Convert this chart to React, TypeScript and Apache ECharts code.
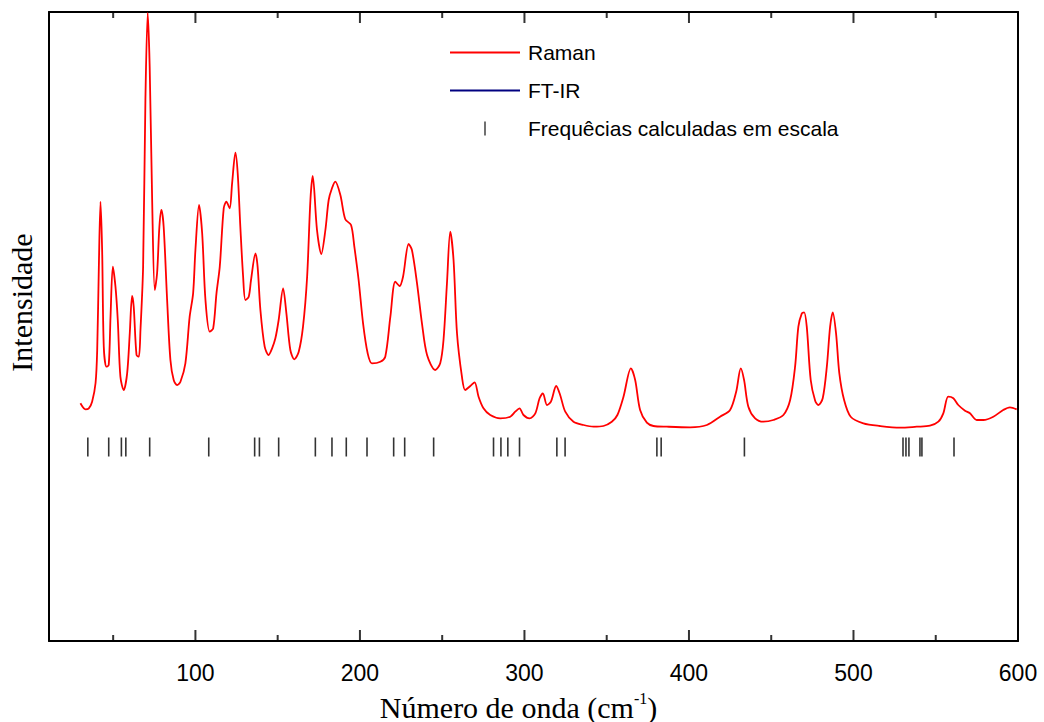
import React, { useEffect, useRef } from "react";
import * as echarts from "echarts";

const ramanWavenumber = [30.1,33.2,35.2,37.2,39.3,40.3,41.3,42.3,43.3,44.3,45.9,47.3,48.4,49.8,51.4,52.8,54.4,56.4,58.5,60.1,61.5,62.5,64.2,65.6,66.6,68.2,69.6,71.0,72.2,73.7,75.3,76.7,78.1,79.3,80.7,82.8,84.8,86.8,88.9,90.9,93.9,96.5,98.6,100,102.2,104.1,106.1,108.7,110.8,112.8,114.8,117.2,118.8,120.8,122.3,124.3,125.7,127.3,129,130.4,132.4,133.8,136.5,137.8,139.5,142.1,144.5,146.6,148.6,150.6,153.3,155.3,157.7,160.1,162.8,165.4,167.9,169.9,171.3,173.9,176.5,179,181,183,185,188.1,191.1,194.6,196.6,199.2,201.9,204.7,207.3,212.4,215.4,218.5,221.5,224.1,226.2,229.6,231.6,234.7,237.7,240.8,245.8,248.8,250.8,252.9,254.9,256.9,259,262,264,267.1,269.7,272.1,275.1,279.2,285.3,291.4,294.4,297,299.4,303.1,306.6,309.2,311.2,313.7,316.1,319.3,321.7,324.8,329.8,335.9,342,348,353.1,356.5,360.2,364.7,367.3,370.3,374.4,378.4,386.6,400.7,410.9,418.9,425,428.7,431.5,433.5,436.1,440.2,445.2,451.3,457.4,461.5,464.5,466.5,468.6,470,471.6,474,476.7,478.7,481.3,483.8,485.8,487.4,489.4,491.4,494.3,498.3,506,516.1,528.3,538.4,546.5,551.6,554.6,557.6,560.7,563.7,567.8,570.8,574.9,578.9,585,591,595.1,599.2];

const ramanIntensity = [237.7,231.7,232.7,239.3,258,291,374.3,439.3,391,294.3,274.3,276,324.3,374.3,354.3,321,264.3,251,267.7,307.7,345,334.3,286,284.3,311,374.3,541,628,574.3,441,351,367.7,414.3,431,414.3,341,281,261,256,259.3,277.7,324.3,347.7,391,436,407.7,341,309.3,312.7,347.7,374.3,432.7,439.3,432.7,457.7,488.3,467.7,414.3,364.3,341,344.3,361,387.7,374.3,331,294.3,286,292.7,302.7,321,352.7,327.7,291,281.7,289.3,314.3,364.3,441,465,411,387,411,441,452.7,459.3,446,421.7,416,394.3,361,317.7,287.7,277.7,279.3,284.3,324.3,359.3,355,364.3,397,391,357.7,317.7,286,271,277.7,301,357.7,409.3,381,307.7,264.3,251,255,258.7,244.3,232.7,226,222.7,224.3,229.3,232.7,226,222.7,227.7,242.7,247.7,236,239.3,255,246,229.3,219.3,216,214.3,215,219.3,226,244.3,272.7,261,231,218.3,215,214.3,213.7,216,224.3,231,249.3,272.7,261,234.3,222.7,219.3,221,226,241,274.3,314.3,327.7,328.7,314.3,261,240.3,236,242.7,274.3,314.3,328.7,307.7,267.7,241,224.3,217.7,215,213.3,214.3,215.3,219.3,227.7,244.3,242.7,236,230.3,227.7,221,221,224.3,231,233.7,231.7];

const calculatedFrequencies = [34.6,47.3,55,57.7,72.2,108.1,136,138.9,150.6,172.9,183,191.7,204.3,220.5,227.2,244.8,281.2,285.7,289.9,297,319.7,324.7,380.5,383.1,433.7,530.1,531.9,533.7,540.4,541.6,561.1];
const calculatedMarkerLevel = 194;

const majorTicks = [100, 200, 300, 400, 500, 600];
const minorTicks = [50, 150, 250, 350, 450, 550];

const seriesNames = ["Raman", "FT-IR", "Frequêcias calculadas em escala"];

const X_MIN = 11;
const X_MAX = 600;
const Y_MIN = 0;
const Y_MAX = 629;

function tickMarks(values: number[], len: number, atTop: boolean) {
  return {
    type: "scatter",
    xAxisIndex: 0,
    yAxisIndex: 0,
    silent: true,
    clip: false,
    z: 5,
    data: values.map((v) => [v, atTop ? Y_MAX : Y_MIN]),
    symbol: "rect",
    symbolSize: [2, len],
    symbolOffset: [0, atTop ? len / 2 : -len / 2],
    itemStyle: { color: "#000" },
    tooltip: { show: false },
  };
}

export default function App() {
  const ref = useRef<HTMLDivElement>(null);
  useEffect(() => {
    if (!ref.current) return;
    const chart = echarts.init(ref.current, undefined, { renderer: "svg" });
    const n = Math.min(ramanWavenumber.length, ramanIntensity.length);
    const ramanData = [];
    for (let i = 0; i < n; i++) ramanData.push([ramanWavenumber[i], ramanIntensity[i]]);
    const markerData = calculatedFrequencies.map((f) => [f, calculatedMarkerLevel]);
    const black = "#000";
    const option = {
      animation: false,
      backgroundColor: "#fff",
      grid: { left: 49, right: 26, top: 12, bottom: 81, containLabel: false, outerBoundsMode: "none" },
      legend: {
        orient: "vertical",
        left: 445,
        top: 37,
        itemWidth: 70,
        itemHeight: 14,
        itemGap: 17,
        selectedMode: false,
        textStyle: { fontFamily: "Liberation Sans", fontSize: 21, color: black, padding: [0, 0, 0, 3] },
        data: [
          { name: seriesNames[0], icon: "path://M0,0h70v2h-70z" },
          { name: seriesNames[1], icon: "path://M0,0h70v2h-70z" },
          { name: seriesNames[2], icon: "path://M0,0h1v10h-1z" },
        ],
      },
      xAxis: [
        {
          type: "value",
          min: X_MIN,
          max: X_MAX,
          position: "bottom",
          splitLine: { show: false },
          axisLine: { show: true, onZero: false, lineStyle: { color: black, width: 2 } },
          axisTick: { show: false },
          axisLabel: { show: true, customValues: majorTicks, margin: 20, fontFamily: "Liberation Sans", fontSize: 23, color: black },
          name: "{a|Número de onda (cm}{b|-1}{a|)}",
          nameLocation: "middle",
          nameGap: 49,
          nameTextStyle: {
            padding: [0, 30, 0, 0],
            rich: {
              a: { fontFamily: "Liberation Serif", fontSize: 30, color: black, lineHeight: 34 },
              b: { fontFamily: "Liberation Serif", fontSize: 16, color: black, verticalAlign: "top", lineHeight: 34 },
            },
          },
        },
        {
          type: "value",
          min: X_MIN,
          max: X_MAX,
          position: "top",
          splitLine: { show: false },
          axisLine: { show: true, onZero: false, lineStyle: { color: black, width: 2 } },
          axisTick: { show: false },
          axisLabel: { show: false },
        },
      ],
      yAxis: [
        {
          type: "value",
          min: Y_MIN,
          max: Y_MAX,
          position: "left",
          axisLine: { show: true, onZero: false, lineStyle: { color: black, width: 2 } },
          axisTick: { show: false },
          axisLabel: { show: false },
          splitLine: { show: false },
          name: "Intensidade",
          nameLocation: "middle",
          nameRotate: 90,
          nameGap: 13,
          nameTextStyle: { fontFamily: "Liberation Serif", fontSize: 30, color: black, padding: [0, 0, 0, 48] },
        },
        {
          type: "value",
          min: Y_MIN,
          max: Y_MAX,
          position: "right",
          axisLine: { show: true, onZero: false, lineStyle: { color: black, width: 2 } },
          axisTick: { show: false },
          axisLabel: { show: false },
          splitLine: { show: false },
        },
      ],
      series: [
        {
          name: seriesNames[0],
          type: "line",
          xAxisIndex: 0,
          yAxisIndex: 0,
          data: ramanData,
          symbol: "none",
          showSymbol: false,
          smooth: 0.3,
          lineStyle: { color: "#ff0000", width: 1.8 },
          itemStyle: { color: "#ff0000" },
        },
        {
          name: seriesNames[1],
          type: "line",
          xAxisIndex: 0,
          yAxisIndex: 0,
          data: [],
          symbol: "none",
          lineStyle: { color: "#000080", width: 1.8 },
          itemStyle: { color: "#000080" },
        },
        {
          name: seriesNames[2],
          type: "scatter",
          xAxisIndex: 0,
          yAxisIndex: 0,
          data: markerData,
          symbol: "rect",
          symbolSize: [1.6, 19],
          itemStyle: { color: black },
        },
        tickMarks(majorTicks, 11, false),
        tickMarks(minorTicks, 6, false),
        tickMarks(majorTicks, 11, true),
        tickMarks(minorTicks, 6, true),
      ],
    };
    chart.setOption(option as any);
    return () => chart.dispose();
  }, []);
  return (
    <div
      ref={ref}
      style={{ position: "absolute", left: 0, top: 0, width: 1044, height: 722 }}
    />
  );
}
